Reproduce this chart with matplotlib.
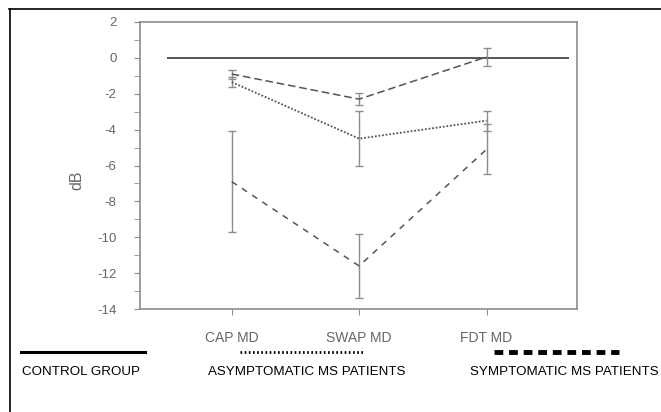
import matplotlib
matplotlib.use("Agg")
import matplotlib.pyplot as plt
from matplotlib.lines import Line2D

plt.rcParams["font.family"] = ["Liberation Sans", "DejaVu Sans"]
plt.rcParams["axes.unicode_minus"] = False

# data
tests = ["CAP MD", "SWAP MD", "FDT MD"]
control = [0.0, 0.0, 0.0]
grp_top = [-0.9, -2.3, 0.05]
grp_top_err = [0.25, 0.35, 0.5]
asympt = [-1.35, -4.5, -3.5]
asympt_err = [0.3, 1.55, 0.55]
sympt = [-6.9, -11.6, -5.1]
sympt_err = [2.8, 1.8, 1.4]
yticks = list(range(-14, 3, 2))
legend_labels = ["CONTROL GROUP", "ASYMPTOMATIC MS PATIENTS", "SYMPTOMATIC MS PATIENTS"]

GRAY = "#8c8c8c"
LINE = "#555555"
TXT = "#666666"
W, H = 661, 412

fig = plt.figure(figsize=(W / 100, H / 100), dpi=100)
ax = fig.add_axes([140 / W, 1 - 309 / H, 437 / W, 287 / H])
x = list(range(len(tests)))

ax.hlines(0, -0.51, 2.65, color=LINE, lw=1.4)
ax.errorbar(x, grp_top, yerr=grp_top_err, color=LINE, lw=1.1, ls=(0, (5, 2.5)),
            capsize=3, elinewidth=1.0, ecolor=GRAY)
ax.errorbar(x, asympt, yerr=asympt_err, color=LINE, lw=1.3, ls=(0, (1, 1)),
            capsize=3, elinewidth=1.0, ecolor=GRAY)
ax.errorbar(x, sympt, yerr=sympt_err, color=LINE, lw=1.1, ls=(0, (4, 4)),
            capsize=3, elinewidth=1.0, ecolor=GRAY)

ax.set_xlim(-0.72, 2.71)
ax.set_ylim(-14, 2)
ax.set_yticks(yticks)
ax.set_yticks(range(-13, 2, 2), minor=True)
ax.set_xticks(x)
ax.set_xticklabels(tests)
for s in ax.spines.values():
    s.set_color(GRAY)
    s.set_linewidth(1.2)
ax.tick_params(axis="y", colors=GRAY, labelcolor=TXT, length=4, pad=13, labelsize=9.5)
ax.tick_params(axis="y", which="minor", colors=GRAY, length=4)
ax.tick_params(axis="x", colors=GRAY, labelcolor=TXT, length=4, pad=12, labelsize=10)
ax.set_ylabel("dB", color=TXT, fontsize=11.5)
ax.yaxis.set_label_coords(-0.128, 0.45)

# outer frame (top and left only)
fig.add_artist(Line2D([9 / W, 1], [1 - 9 / H] * 2, color="black", lw=1.2))
fig.add_artist(Line2D([10 / W] * 2, [0, 1 - 9 / H], color="black", lw=1.2))

# legend drawn below the chart
ly = 1 - 352 / H
fig.add_artist(Line2D([21 / W, 145 / W], [ly, ly], color="black", lw=2.2))
fig.add_artist(Line2D([240 / W, 363 / W], [ly, ly], color="black", lw=2.0, ls=(0, (0.6, 0.9))))
fig.add_artist(Line2D([494 / W, 619 / W], [ly, ly], color="black", lw=3.5, ls=(0, (1.8, 1.2))))
ty = 1 - 372 / H
for lx, lab in zip([22, 208, 470], legend_labels):
    fig.text(lx / W, ty, lab, fontsize=9.6, va="center", color="black")

fig.savefig("out.png", dpi=100)
